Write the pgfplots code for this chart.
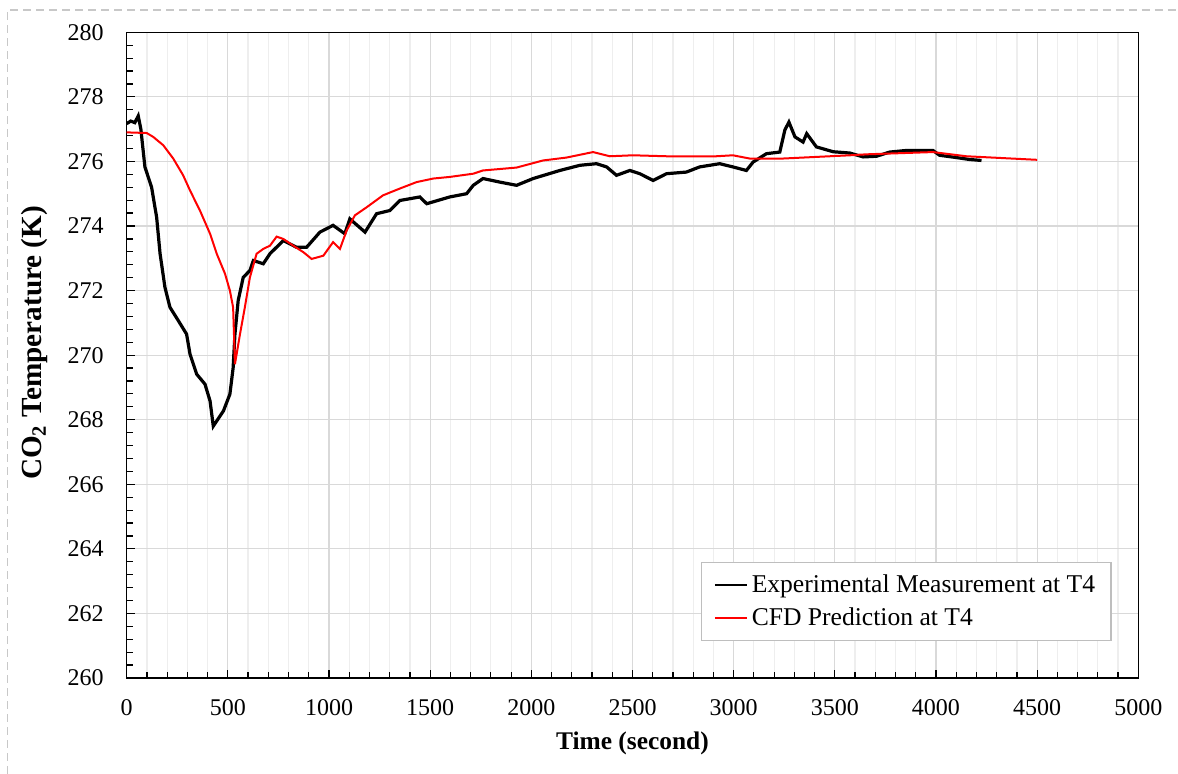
\documentclass[border=0pt]{standalone}
\usepackage{fontspec}
\setmainfont{Liberation Serif}
\usepackage{pgfplots}
\pgfplotsset{compat=1.18}
\definecolor{gridmaj}{RGB}{217,217,217}
\definecolor{gridmin}{RGB}{238,238,238}
\definecolor{dashgray}{RGB}{200,200,200}
\definecolor{legbord}{RGB}{190,190,190}
\begin{document}
\begin{tikzpicture}
\useasboundingbox (-63.35pt,-48pt) rectangle (525.65pt,339pt);
\draw[dashgray, line width=0.6pt, dash pattern=on 4pt off 2.5pt] (-59.6pt,-48pt) -- (-59.6pt,334pt) -- (525.65pt,334pt);
\begin{axis}[
  at={(0,0)}, anchor=south west, scale only axis,
  width=505.8pt, height=322.85pt,
  xmin=0, xmax=5000, ymin=260, ymax=280,
  xtick={0,500,...,5000}, ytick={260,262,...,280},
  minor x tick num=4, minor y tick num=4,
  xmajorgrids, ymajorgrids, xminorgrids,
  major grid style={draw=gridmaj, line width=0.6pt},
  minor grid style={draw=gridmin, line width=0.6pt},
  tick align=inside, xtick pos=bottom, ytick pos=left,
  major tick length=4pt, minor tick length=3pt,
  every tick/.style={black, line width=0.6pt},
  axis line style={black, line width=0.7pt},
  /pgf/number format/assume math mode=true,
  /pgf/number format/set thousands separator={},
  scaled ticks=false,
  tick label style={font=\fontsize{12}{14}\selectfont},
  xticklabel shift=7pt, yticklabel shift=8pt,
  xlabel={\textbf{Time (second)}},
  ylabel={\textbf{CO\textsubscript{2} Temperature (K)}},
  xlabel style={font=\fontsize{12.7}{15}\selectfont, at={(axis description cs:0.5,-0.1007)}, anchor=center},
  ylabel style={font=\fontsize{14.6}{17}\selectfont, at={(axis description cs:-0.091,0.519)}, anchor=center},
  legend style={at={(rel axis cs:0.9737,0.0573)}, anchor=south east,
    draw=legbord, line width=0.6pt, font=\fontsize{12.8}{15}\selectfont,
    inner xsep=6pt, inner ysep=4pt, row sep=2pt, cells={anchor=west}},
  legend image code/.code={\draw[#1, line width=1pt] (0pt,0pt) -- (16pt,0pt);},
  legend cell align=left,
]
\addplot[black, line width=1.6pt] coordinates {
(0,277.17) (20,277.25) (40,277.2) (57,277.41) (70,277.0) (90,275.83) (123,275.2)
(148,274.27) (165,273.14) (189,272.1) (214,271.48) (255,271.07) (296,270.65)
(313,270.03) (346,269.41) (387,269.1) (412,268.58) (428,267.8) (445,267.96)
(478,268.27) (510,268.79) (526,269.6) (535,270.65) (551,271.69) (576,272.41)
(609,272.62) (626,272.93) (675,272.83) (708,273.14) (774,273.55) (840,273.34)
(889,273.34) (955,273.81) (1020,274.02) (1078,273.76) (1103,274.22) (1178,273.81)
(1235,274.38) (1301,274.48) (1350,274.79) (1449,274.9) (1483,274.69) (1597,274.9)
(1680,275.0) (1713,275.26) (1761,275.47) (1844,275.36) (1927,275.26) (2009,275.47)
(2141,275.72) (2240,275.88) (2322,275.93) (2372,275.83) (2421,275.57) (2487,275.72)
(2536,275.62) (2602,275.41) (2668,275.62) (2766,275.67) (2832,275.83) (2931,275.93)
(2996,275.83) (3063,275.72) (3096,275.98) (3162,276.24) (3228,276.29) (3253,276.97)
(3273,277.22) (3303,276.76) (3343,276.6) (3361,276.86) (3409,276.45) (3492,276.3)
(3574,276.26) (3640,276.14) (3706,276.16) (3771,276.29) (3854,276.34) (3985,276.34)
(4018,276.19) (4101,276.12) (4166,276.06) (4225,276.03)
};
\addlegendentry{Experimental Measurement at T4}
\addplot[red, line width=1pt] coordinates {
(0,276.9) (99,276.88) (131,276.76) (181,276.5) (230,276.09) (279,275.57) (313,275.1)
(362,274.48) (412,273.76) (445,273.14) (486,272.52) (510,272.0) (526,271.48)
(535,269.72) (560,270.65) (584,271.48) (609,272.41) (642,273.14) (675,273.29)
(708,273.39) (741,273.67) (774,273.6) (823,273.39) (873,273.19) (914,272.98)
(972,273.08) (1020,273.5) (1054,273.29) (1087,273.86) (1128,274.33) (1186,274.58)
(1267,274.95) (1350,275.16) (1433,275.36) (1515,275.47) (1597,275.52) (1713,275.62)
(1761,275.72) (1927,275.81) (2058,276.03) (2174,276.12) (2305,276.29) (2388,276.16)
(2502,276.19) (2668,276.16) (2914,276.16) (2996,276.19) (3079,276.09) (3245,276.09)
(3409,276.14) (3574,276.19) (3656,276.22) (3985,276.29) (4150,276.16) (4500,276.05)
};
\addlegendentry{CFD Prediction at T4}
\end{axis}
\end{tikzpicture}
\end{document}
